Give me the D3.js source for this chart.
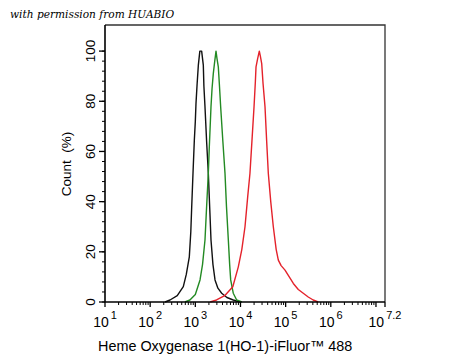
<!DOCTYPE html>
<html><head><meta charset="utf-8">
<script src="https://cdn.jsdelivr.net/npm/d3@7"></script>
<style>body{margin:0;background:#fff}svg{display:block}</style>
</head><body>
<script>
// Data: x as log10(intensity), y as count %
const blackLog = [2.33,2.44,2.6,2.734,2.8,2.867,2.9,2.92,2.95,2.978,3.0,3.015,3.04,3.067,3.10,3.14,3.177,3.19,3.214,3.25,3.288,3.32,3.347,3.39,3.436,3.5,3.584,3.7,3.84,3.99];
const blackPct = [0,0.8,2.5,6.1,11,18,28,38,52,64.5,72,79.2,87,94.4,100,100,94.4,86,77.8,64,51.3,37,24.7,15,8.8,5.5,3.5,1.8,0.8,0];
const greenLog = [2.77,2.88,3.0,3.104,3.16,3.214,3.25,3.288,3.31,3.347,3.37,3.398,3.43,3.458,3.48,3.509,3.535,3.561,3.61,3.657,3.69,3.731,3.76,3.783,3.84,3.916,4.03];
const greenPct = [0,0.8,3,8.8,15,24.7,38,51.3,62,77.8,85,91,96,100,97,93.7,86,77.8,64,51.3,38,24.7,15,8.8,3.5,0.8,0];
const redLog = [3.33,3.47,3.65,3.83,3.952,4.03,4.1,4.16,4.21,4.26,4.3,4.33,4.344,4.38,4.417,4.44,4.47,4.50,4.543,4.58,4.616,4.67,4.727,4.79,4.838,4.90,4.986,5.08,5.17,5.28,5.39,5.5,5.61,5.72];
const redPct = [0,0.8,2.5,6.1,14,21,30,42,51.3,66,77.8,88,93.7,97,100,98,95,87,77.8,64,51.3,40,30,21,16.7,14.5,12.7,10,7.4,5,3.5,2,0.8,0];
const xTickExp = ["1","2","3","4","5","6","7.2"];
const yTicks = [0,20,40,60,80,100];
const xTitle = "Heme Oxygenase 1(HO-1)-iFluor\u2122 488";
const yTitle = "Count  (%)";
const note = "with permission from HUABIO";

const W = 450, H = 360;
const L = 105, R = 385, T = 25, B = 302;
const svg = d3.select("body").append("svg").attr("width", W).attr("height", H);

const x = d3.scaleLog().domain([10, Math.pow(10, 7.2)]).range([L, R]);
const y = d3.scaleLinear().domain([0, 110.4]).range([B, T]);

// note
svg.append("text").attr("x", 10).attr("y", 18)
  .attr("font-family", "'DejaVu Serif', serif").attr("font-style", "italic")
  .attr("font-size", 10.6).attr("fill", "#000").text(note);

// frame top/right
svg.append("path").attr("d", `M${L},${T}H${R}V${B}`).attr("fill", "none")
  .attr("stroke", "#333").attr("stroke-width", 1.3);

// curves
const line = d3.line().x(d => x(Math.pow(10, d[0]))).y(d => y(d[1]));
const series = [
  [blackLog, blackPct, "#111"],
  [greenLog, greenPct, "#238a23"],
  [redLog, redPct, "#e4222b"]
];
series.forEach(([lx, py, c]) => {
  svg.append("path").datum(lx.map((v, i) => [v, py[i]]))
    .attr("d", line).attr("fill", "none").attr("stroke", c).attr("stroke-width", 1.4)
    .attr("stroke-linejoin", "round");
});

// y axis
const yMinor = d3.range(0, 101, 4);
svg.selectAll(".ymin").data(yMinor).enter().append("line")
  .attr("x1", L - 3).attr("x2", L).attr("y1", d => y(d)).attr("y2", d => y(d))
  .attr("stroke", "#000").attr("stroke-width", 1);
svg.selectAll(".ymaj").data(yTicks).enter().append("line")
  .attr("x1", L - 6).attr("x2", L).attr("y1", d => y(d)).attr("y2", d => y(d))
  .attr("stroke", "#000").attr("stroke-width", 1.3);
svg.selectAll(".ylab").data(yTicks).enter().append("text")
  .attr("transform", d => `translate(95,${y(d)}) rotate(-90)`)
  .attr("text-anchor", "middle").attr("font-family", "'Liberation Sans', Arial, sans-serif")
  .attr("font-size", 13.5).attr("fill", "#000").text(d => d);
svg.append("text").attr("transform", `translate(71,164) rotate(-90)`)
  .attr("text-anchor", "middle").attr("font-family", "'Liberation Sans', Arial, sans-serif")
  .attr("font-size", 13.5).attr("fill", "#000").style("white-space", "pre").text(yTitle);

// x axis
const minorVals = [];
for (let e = 1; e < 7.2; e++) for (let m = 2; m <= 9; m++) {
  const v = m * Math.pow(10, e);
  if (v < Math.pow(10, 7.2)) minorVals.push(v);
}
svg.selectAll(".xmin").data(minorVals).enter().append("line")
  .attr("x1", d => x(d)).attr("x2", d => x(d)).attr("y1", B).attr("y2", B + 3)
  .attr("stroke", "#000").attr("stroke-width", 1);
const majorVals = [1,2,3,4,5,6,7].map(e => Math.pow(10, e)).concat([Math.pow(10, 7.2)]);
svg.selectAll(".xmaj").data(majorVals).enter().append("line")
  .attr("x1", d => x(d)).attr("x2", d => x(d)).attr("y1", B).attr("y2", B + 5)
  .attr("stroke", "#000").attr("stroke-width", 1.3);
const xl = svg.selectAll(".xlab").data(xTickExp).enter().append("text")
  .attr("x", d => x(Math.pow(10, +d))).attr("y", 327)
  .attr("text-anchor", "middle").attr("font-family", "'Liberation Sans', Arial, sans-serif")
  .attr("font-size", 14).attr("fill", "#000");
xl.append("tspan").text("10");
xl.append("tspan").attr("dy", -8).attr("dx", 2).attr("font-size", 11).text(d => d);
svg.append("text").attr("x", 98).attr("y", 351)
  .attr("font-family", "'Liberation Sans', Arial, sans-serif")
  .attr("font-size", 14.4).attr("fill", "#000").text(xTitle);

// axis lines
svg.append("path").attr("d", `M${L},${T}V${B}H${R}`).attr("fill", "none")
  .attr("stroke", "#000").attr("stroke-width", 1.6);
</script>
</body></html>
